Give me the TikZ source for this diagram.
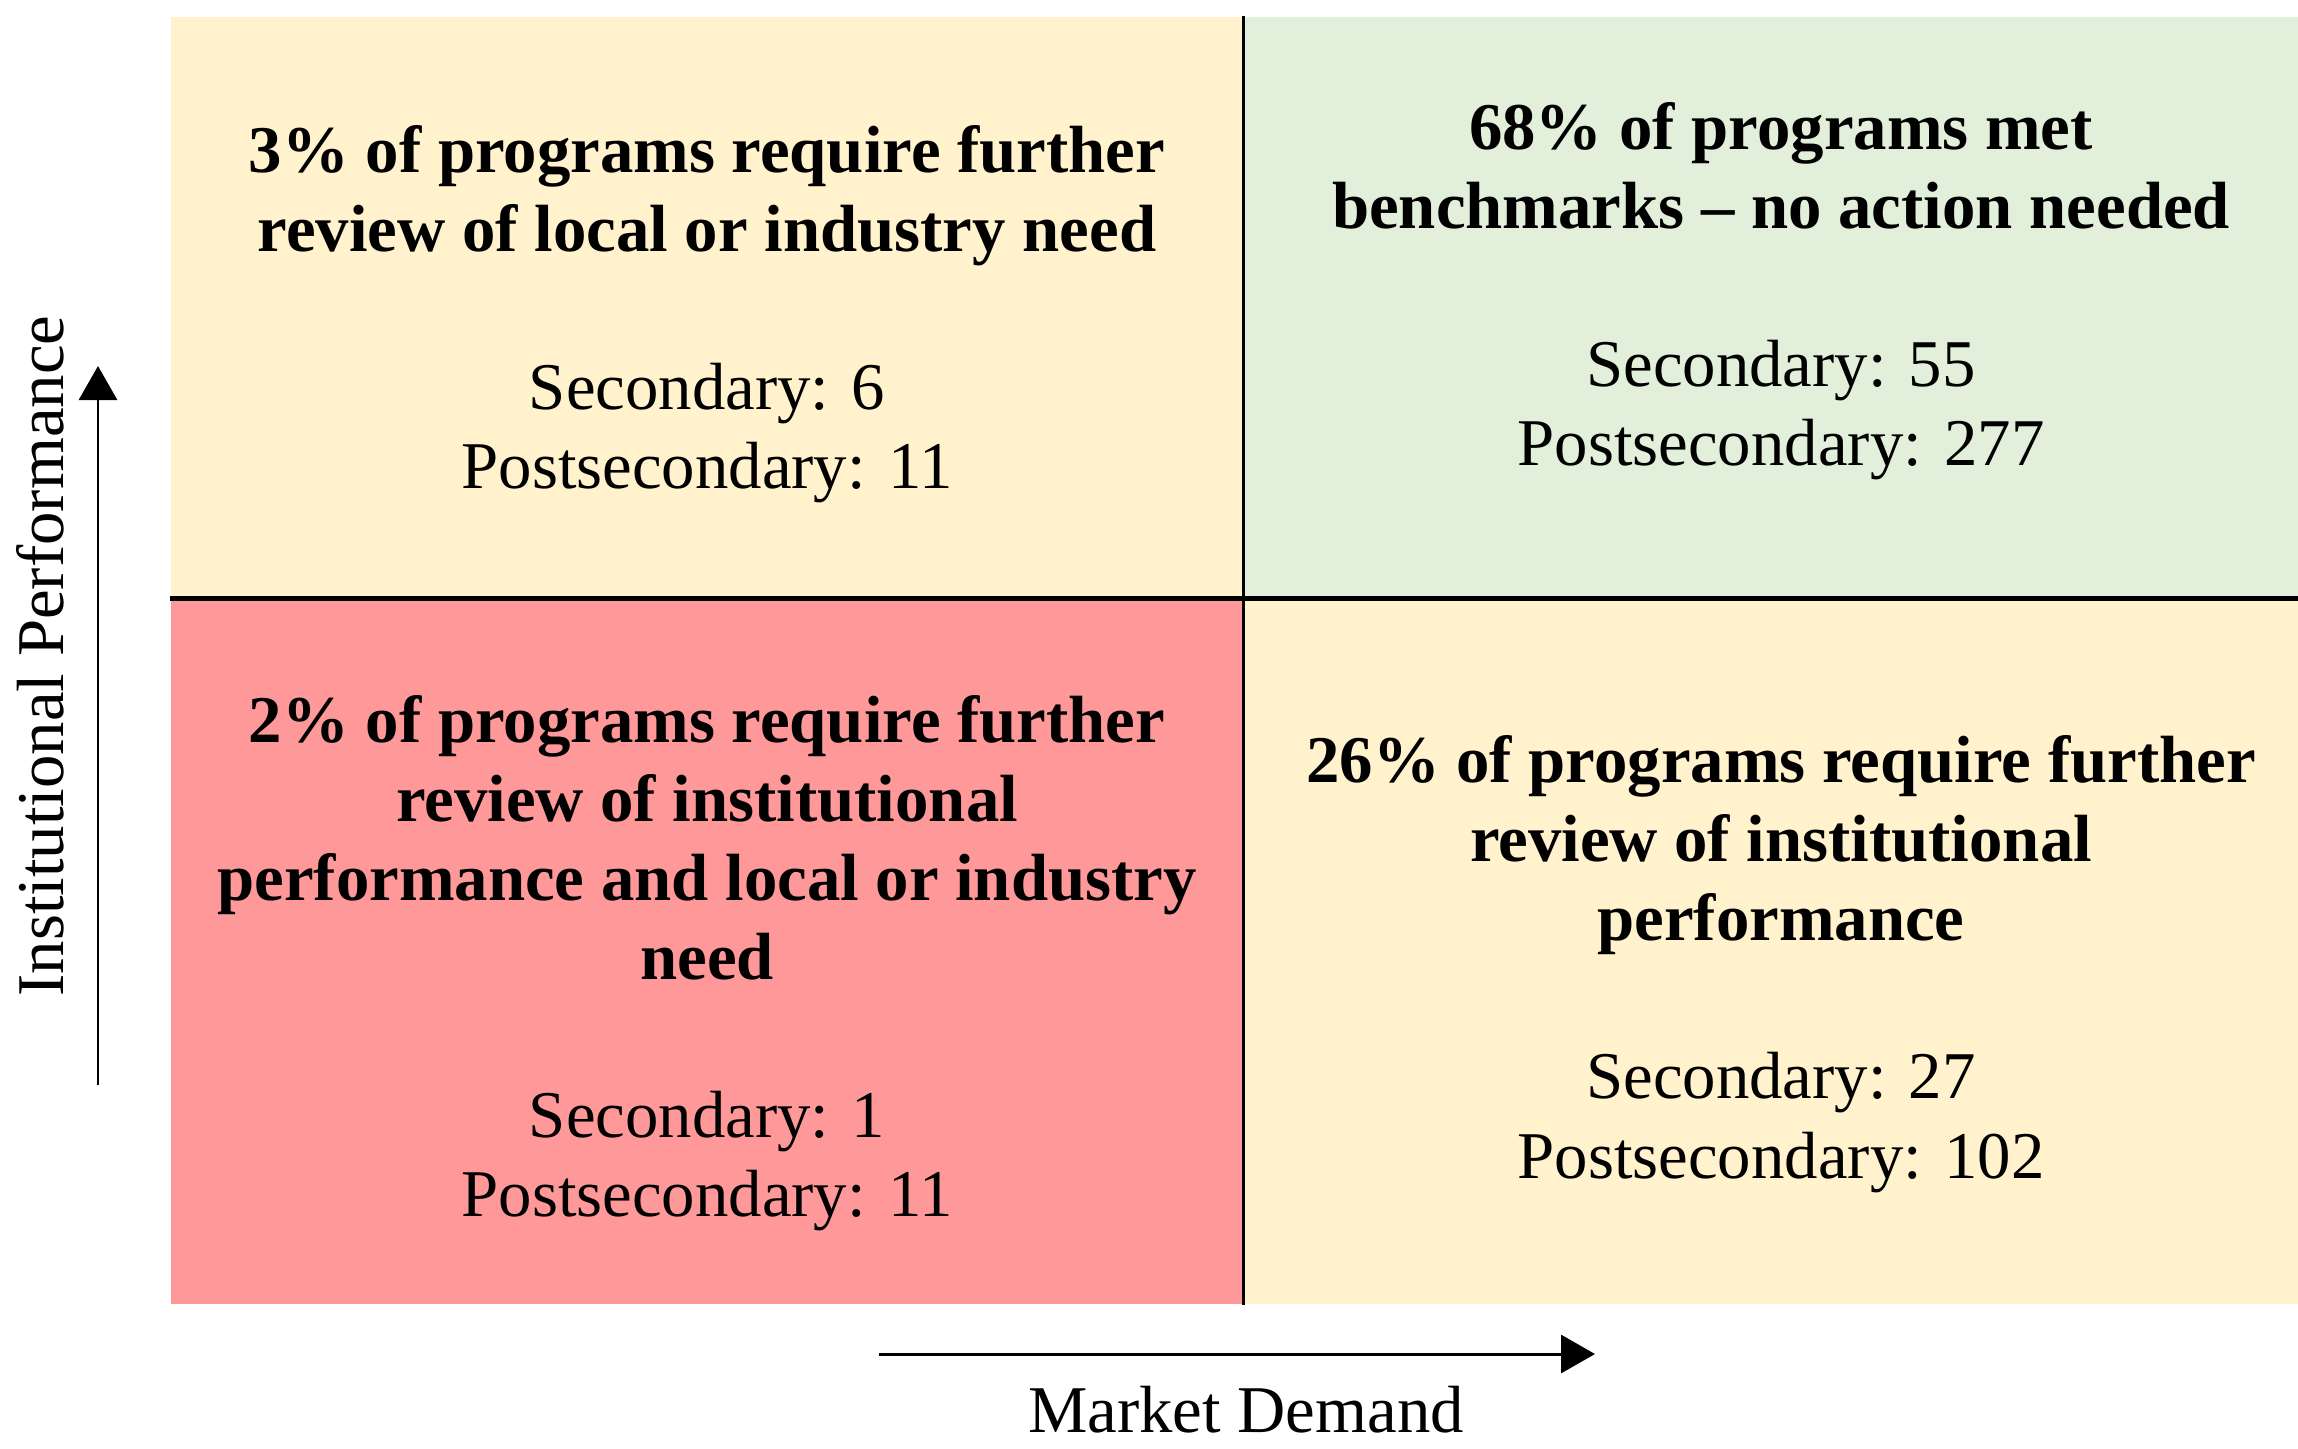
\documentclass[tikz,border=0pt]{standalone}
\usepackage{fontspec}
\setmainfont{Liberation Serif}
\usepackage{tikz}
\usetikzlibrary{arrows.meta}
\definecolor{cream}{HTML}{FFF2CC}
\definecolor{palegreen}{HTML}{E2EFDA}
\definecolor{salmon}{HTML}{FF9999}

\begin{document}
\begin{tikzpicture}
	[every node/.style={font=\fontsize{19}{22.5}\selectfont}, quad/.style={rectangle,inner sep=0pt,draw=none}, txt/.style={align=center,inner sep=0pt}, edge/.style={-{Triangle[length=3.4mm,width=3.8mm]},line width=0.85pt}]
	\useasboundingbox (0,0) rectangle (22.98,-14.48);
	
	\node[quad,fill=cream,minimum width=10.72cm,minimum height=5.81cm] (tl) at (7.07,-3.075) {};
	\node[quad,fill=palegreen,minimum width=10.76cm,minimum height=5.81cm] (tr) at (17.81,-3.075) {};
	\node[quad,fill=salmon,minimum width=10.72cm,minimum height=7.06cm] (bl) at (7.07,-9.51) {};
	\node[quad,fill=cream,minimum width=10.76cm,minimum height=7.06cm] (br) at (17.81,-9.51) {};
	
	\draw[line width=1.3pt] (tl.south west) -- (tr.south east);
	\draw[line width=0.85pt] (tl.north east) -- (bl.south east);
	
	\node[txt] (tltext) at ([yshift=-0.07cm]tl.center) {\textbf{3\% of programs require further}\\ \textbf{review of local or industry need}\\[22.5pt] Secondary: 6\\ Postsecondary: 11};
	\node[txt] (trtext) at ([yshift=0.16cm]tr.center) {\textbf{68\% of programs met}\\ \textbf{benchmarks -- no action needed}\\[22.5pt] Secondary: 55\\ Postsecondary: 277};
	\node[txt] (bltext) at ([yshift=-0.12cm]bl.center) {\textbf{2\% of programs require further}\\ \textbf{review of institutional}\\ \textbf{performance and local or industry}\\ \textbf{need}\\[22.5pt] Secondary: 1\\ Postsecondary: 11};
	\node[txt] (brtext) at ([yshift=-0.13cm]br.center) {\textbf{26\% of programs require further}\\ \textbf{review of institutional}\\ \textbf{performance}\\[22.5pt] Secondary: 27\\ Postsecondary: 102};
	
	\coordinate (ybot) at (0.98,-10.85);
	\coordinate (ytop) at (0.98,-3.66);
	\coordinate (xleft) at (8.79,-13.54);
	\coordinate (xright) at (15.95,-13.54);
	\draw[edge] (ybot) -- (ytop);
	\draw[edge] (xleft) -- (xright);
	
	\node[inner sep=0pt,rotate=90] (ylab) at (0.40,-6.56) {Institutional Performance};
	\node[inner sep=0pt] (xlab) at (12.46,-14.10) {Market Demand};
\end{tikzpicture}
\end{document}
